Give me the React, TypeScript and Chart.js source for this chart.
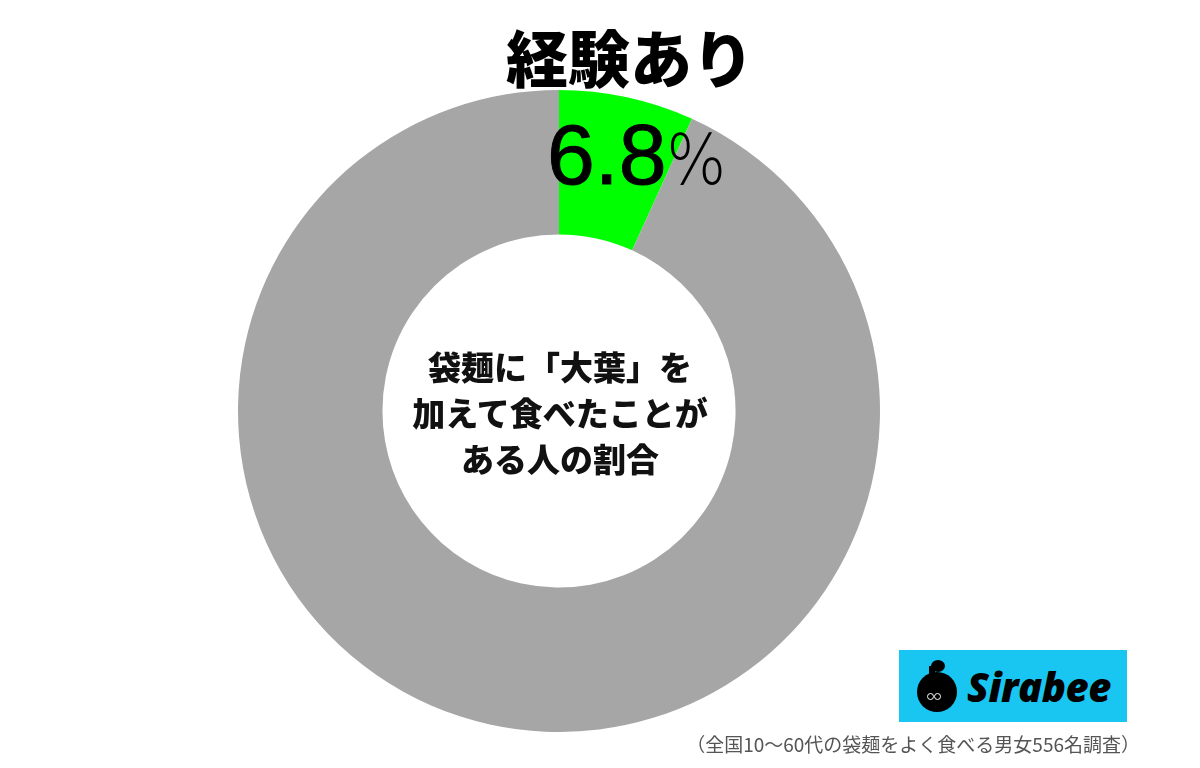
import React, { useEffect, useRef } from "react";
import { Chart, registerables } from "chart.js";

Chart.register(...registerables);

const categories = ["経験あり", "経験なし"];
const values = [6.8, 93.2];
const colors = ["#00FF00", "#A6A6A6"];
const title = "経験あり";
const valueLabel = "6.8";
const centerLines = ["袋麺に「大葉」を", "加えて食べたことが", "ある人の割合"];
const footnote = "（全国10〜60代の袋麺をよく食べる男女556名調査）";

export default function App() {
  const ref = useRef<HTMLCanvasElement | null>(null);
  useEffect(() => {
    if (!ref.current) return;
    const chart = new Chart(ref.current, {
      type: "doughnut",
      data: {
        labels: categories,
        datasets: [
          {
            data: values,
            backgroundColor: colors,
            borderWidth: 0,
          },
        ],
      },
      options: {
        animation: false,
        responsive: true,
        maintainAspectRatio: false,
        cutout: "55%",
        rotation: 0,
        plugins: { legend: { display: false }, tooltip: { enabled: false } },
        layout: { padding: 0 },
      },
    });
    return () => chart.destroy();
  }, []);

  const jp = '"Noto Sans CJK JP", "Noto Sans", sans-serif';
  return (
    <div style={{ position: "fixed", left: 0, top: 0, width: 1200, height: 768, background: "#fff", overflow: "hidden" }}>
      <div style={{ position: "absolute", left: 238, top: 90, width: 642, height: 642 }}>
        <canvas ref={ref} />
      </div>
      <div
        style={{
          position: "absolute", left: 430, top: 11, width: 400, textAlign: "center",
          fontFamily: jp, fontWeight: 900, fontSize: 62, lineHeight: "90px", color: "#000",
          textShadow: "0 0 3px #fff",
        }}
      >
        {title}
      </div>
      <div
        style={{
          position: "absolute", left: 547, top: 104, whiteSpace: "nowrap",
          fontFamily: '"Liberation Sans", Arial, sans-serif', fontSize: 86, lineHeight: "100px", color: "#000",
          WebkitTextStroke: "1px #000",
        }}
      >
        {valueLabel}
        <span style={{ fontSize: 70, fontWeight: 300, fontFamily: '"DejaVu Sans", sans-serif', marginLeft: -4, WebkitTextStroke: "0px #000", display: "inline-block", transform: "scaleX(0.9)" }}>%</span>
      </div>
      <div
        style={{
          position: "absolute", left: 360, top: 343, width: 400, textAlign: "center",
          fontFamily: jp, fontWeight: 900, fontSize: 33, lineHeight: "46px", color: "#111",
        }}
      >
        {centerLines.map((l, i) => (
          <div key={i}>{l}</div>
        ))}
      </div>
      <div
        style={{
          position: "absolute", left: 899, top: 650, width: 228, height: 72, background: "#19C6F2",
          display: "flex", alignItems: "center", justifyContent: "center",
        }}
      >
        <div style={{ position: "relative", width: 46, height: 52, marginRight: 6 }}>
          <div style={{ position: "absolute", left: 2, top: 12, width: 40, height: 40, borderRadius: "50%", background: "#000" }} />
          <div style={{ position: "absolute", left: 16, top: 0, width: 14, height: 12, borderRadius: "50%", background: "#000" }} />
          <div style={{ position: "absolute", left: 14, top: 6, width: 6, height: 14, background: "#000" }} />
          <div style={{ position: "absolute", left: 12, top: 33, width: 7, height: 7, borderRadius: "50%", border: "1.5px solid #fff", boxSizing: "border-box" }} />
          <div style={{ position: "absolute", left: 19, top: 33, width: 7, height: 7, borderRadius: "50%", border: "1.5px solid #fff", boxSizing: "border-box" }} />
        </div>
        <span style={{ fontFamily: '"Open Sans", Roboto, sans-serif', fontWeight: 800, fontStyle: "italic", fontSize: 40, color: "#000", letterSpacing: -0.5 }}>
          Sirabee
        </span>
      </div>
      <div
        style={{
          position: "absolute", left: 600, top: 730, width: 540, textAlign: "right", whiteSpace: "nowrap",
          fontFamily: jp, fontSize: 19, lineHeight: "28px", color: "#555",
        }}
      >
        {footnote}
      </div>
    </div>
  );
}
